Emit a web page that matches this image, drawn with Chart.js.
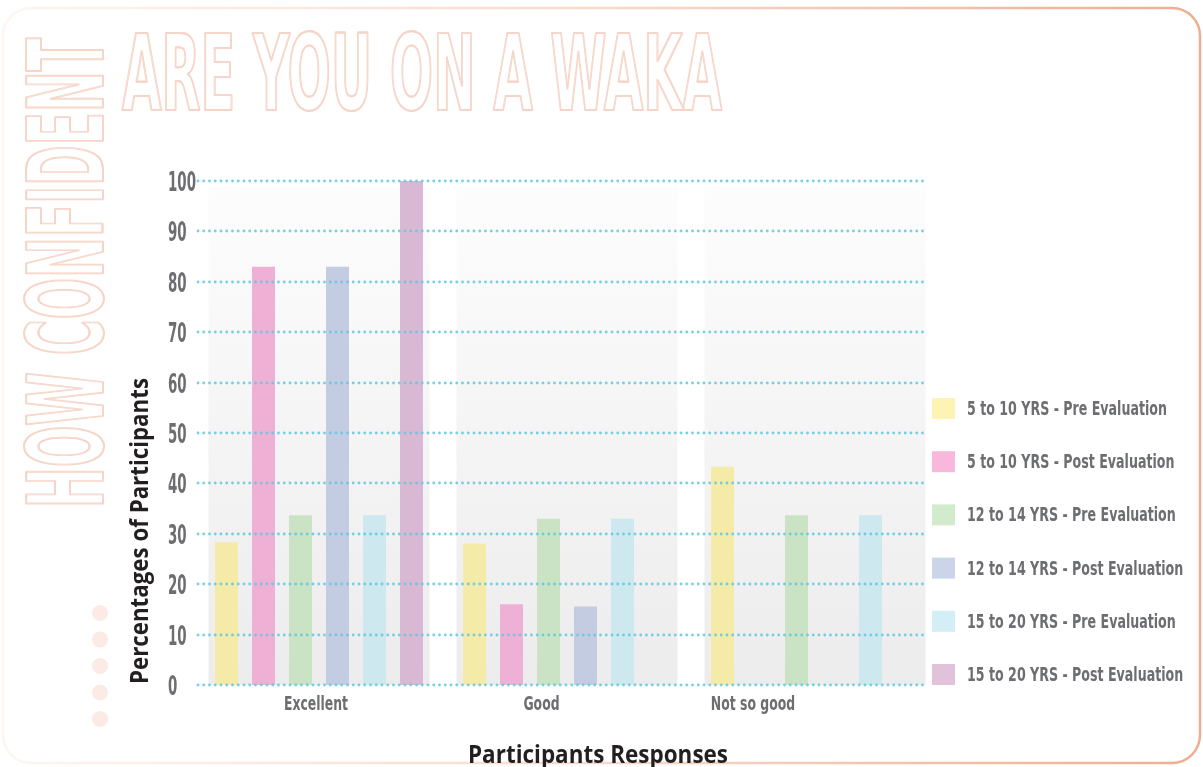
<!DOCTYPE html>
<html>
<head>
<meta charset="utf-8">
<script src="https://cdn.jsdelivr.net/npm/chart.js@4.4.1/dist/chart.umd.min.js"></script>
<style>
  html, body { margin: 0; padding: 0; background: #fff; }
  #wrap { width: 1203px; height: 767px; position: relative; }
</style>
</head>
<body>
<div id="wrap"><canvas id="myChart" width="1203" height="767"></canvas></div>
<script>
// answers on the x axis
const responses = ['Excellent', 'Good', 'Not so good'];

// age groups, pre / post evaluation
const groups = [
  '5 to 10 YRS - Pre Evaluation',
  '5 to 10 YRS - Post Evaluation',
  '12 to 14 YRS - Pre Evaluation',
  '12 to 14 YRS - Post Evaluation',
  '15 to 20 YRS - Pre Evaluation',
  '15 to 20 YRS - Post Evaluation'
];

// percentage of participants per answer
const pre5to10   = [28.3, 28.1, 43.3];
const post5to10  = [83, 16, 0];
const pre12to14  = [33.7, 33, 33.7];
const post12to14 = [83, 15.6, 0];
const pre15to20  = [33.7, 33, 33.7];
const post15to20 = [100, 0, 0];

// y axis range
const yMin = 0;
const yMax = 100;
const yStep = 10;

const barColors = ['#f5eba9', '#efb0d6', '#cae3c4', '#c4cce1', '#cde8ee', '#d9b8d3'];
const legendColors = ['#fdf3b5', '#f8b8dc', '#d1ebcc', '#cbd4e9', '#d3eef4', '#e0c2da'];

const narrow = '"DejaVu Sans Condensed", "DejaVu Sans", sans-serif';
const greyText = '#6d6e71';

// draws text squeezed horizontally, either to a width or by a given factor
function squeeze(ctx, text, x, y, font, opt) {
  ctx.save();
  ctx.font = font;
  const w = ctx.measureText(text).width;
  const sx = opt.width ? opt.width / w : opt.sx;
  ctx.translate(x, y);
  if (opt.rotate) ctx.rotate(opt.rotate);
  ctx.scale(sx, 1);
  ctx.textAlign = 'left';
  ctx.textBaseline = 'alphabetic';
  const x0 = opt.center ? -w / 2 : 0;
  if (opt.stroke) {
    ctx.strokeStyle = opt.stroke;
    ctx.lineWidth = opt.lineWidth || 2;
    ctx.lineJoin = 'round';
    const d = 0.4 / sx;
    ctx.strokeText(text, x0 - d, 0);
    ctx.strokeText(text, x0 + d, 0);
  } else {
    ctx.fillStyle = opt.color;
    ctx.fillText(text, x0, 0);
  }
  ctx.restore();
  return sx;
}

const decor = {
  id: 'decor',
  beforeDraw(chart) {
    const ctx = chart.ctx;
    ctx.save();
    ctx.fillStyle = '#fff';
    ctx.fillRect(0, 0, chart.width, chart.height);

    // rounded frame
    const g = ctx.createLinearGradient(0, 0, chart.width, 0);
    g.addColorStop(0, '#fdf6f2');
    g.addColorStop(0.5, '#f8d9cb');
    g.addColorStop(1, '#efad8f');
    ctx.strokeStyle = g;
    ctx.lineWidth = 2.5;
    ctx.beginPath();
    ctx.roundRect(3, 8, 1197, 755, 28);
    ctx.stroke();

    // little dots bottom left
    ctx.fillStyle = '#fbebe4';
    for (let i = 0; i < 5; i++) {
      ctx.beginPath();
      ctx.arc(100, 613 + i * 26.5, 8, 0, Math.PI * 2);
      ctx.fill();
    }
    ctx.restore();

    // outlined heading
    const big = '600 106px ' + narrow;
    squeeze(ctx, 'ARE YOU ON A WAKA', 122, 110, big, { width: 600, stroke: '#f6d5c8', lineWidth: 1.8 });
    squeeze(ctx, 'HOW CONFIDENT', 103, 508, big, { width: 470, stroke: '#f6d5c8', lineWidth: 1.8, rotate: -Math.PI / 2 });

    // axis titles
    const titleFont = 'bold 25px "Open Sans", "Noto Sans", sans-serif';
    squeeze(ctx, 'Percentages of Participants', 148, 684, titleFont, { width: 306, color: '#231f20', rotate: -Math.PI / 2 });
    squeeze(ctx, 'Participants Responses', 468, 763, titleFont, { width: 260, color: '#231f20' });
  },
  beforeDatasetsDraw(chart) {
    const ctx = chart.ctx;
    const x = chart.scales.x;
    const top = chart.chartArea.top + 4;
    const bottom = chart.chartArea.bottom;
    ctx.save();
    const g = ctx.createLinearGradient(0, top, 0, bottom);
    g.addColorStop(0, '#fdfdfd');
    g.addColorStop(1, '#ececec');
    ctx.fillStyle = g;
    responses.forEach((r, i) => {
      const c = x.getPixelForValue(i);
      ctx.fillRect(c - 110.5, top, 221, bottom - top);
    });
    ctx.restore();
  },
  afterDatasetsDraw(chart) {
    const ctx = chart.ctx;
    const x = chart.scales.x;
    const y = chart.scales.y;
    const area = chart.chartArea;

    // dotted grid lines over the bars
    ctx.save();
    ctx.strokeStyle = 'rgba(95, 200, 226, 0.85)';
    ctx.lineWidth = 2.9;
    ctx.lineCap = 'round';
    ctx.setLineDash([0, 5.75]);
    y.ticks.forEach((t) => {
      const py = Math.round(y.getPixelForValue(t.value));
      ctx.beginPath();
      ctx.moveTo(area.left + 3, py);
      ctx.lineTo(area.right - 14, py);
      ctx.stroke();
    });
    ctx.restore();

    // y tick labels, left aligned and narrow
    const tickFont = 'bold 27px ' + narrow;
    let tsx = null;
    y.ticks.slice().reverse().forEach((t) => {
      const py = y.getPixelForValue(t.value) + 10;
      const o = tsx ? { sx: tsx, color: greyText } : { width: 28, color: greyText };
      const s = squeeze(ctx, t.label, 168, py, tickFont, o);
      if (!tsx) tsx = s;
    });

    // category labels
    const catFont = 'bold 19px ' + narrow;
    const shift = [-3, -25.5, -62];
    let sx = null;
    responses.forEach((r, i) => {
      const c = x.getPixelForValue(i) + shift[i];
      const o = sx ? { sx, center: true, color: greyText } : { width: 64, center: true, color: greyText };
      const s = squeeze(ctx, r, c, 710, catFont, o);
      if (!sx) sx = s;
    });

    // legend
    const legFont = 'bold 20px ' + narrow;
    let lsx = null;
    groups.forEach((name, i) => {
      const top = 398 + i * 53.2;
      ctx.fillStyle = legendColors[i];
      ctx.fillRect(932, top, 23, 21);
      const o = lsx ? { sx: lsx, color: greyText } : { width: 200, color: greyText };
      const s = squeeze(ctx, name, 967, top + 17, legFont, o);
      if (!lsx) lsx = s;
    });
  }
};

const series = [pre5to10, post5to10, pre12to14, post12to14, pre15to20, post15to20];

const ctx = document.getElementById('myChart');

const myChart = new Chart(ctx, {
  type: 'bar',
  data: {
    labels: responses,
    datasets: series.map((values, i) => ({
      label: groups[i],
      data: values,
      backgroundColor: barColors[i],
      borderWidth: 0,
      categoryPercentage: 0.895,
      barPercentage: 0.622
    }))
  },
  options: {
    responsive: false,
    animation: false,
    layout: { padding: { left: 168, right: 264, top: 181, bottom: 82 } },
    plugins: {
      legend: { display: false },
      tooltip: { enabled: false }
    },
    scales: {
      x: { display: false },
      y: {
        min: yMin,
        max: yMax,
        grid: { display: false },
        border: { display: false },
        ticks: { stepSize: yStep, display: false },
        afterFit(scale) { scale.width = 27; }
      }
    }
  },
  plugins: [decor]
});
</script>
</body>
</html>
